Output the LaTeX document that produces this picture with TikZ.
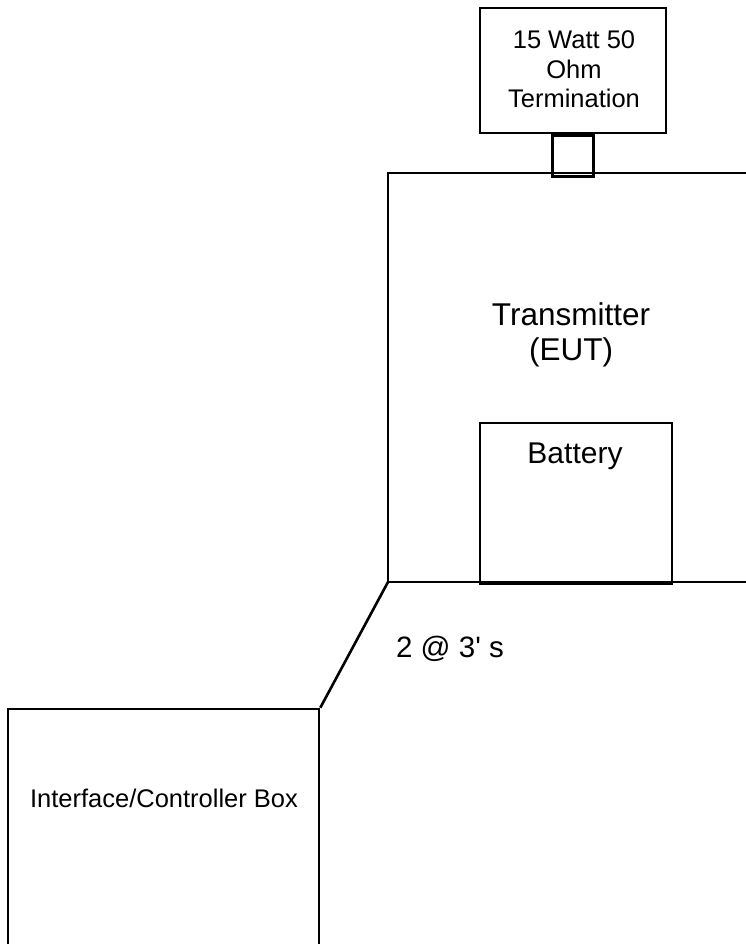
\documentclass[tikz,border=0pt]{standalone}
\usepackage{fontspec}
\setmainfont{Liberation Sans}
\usetikzlibrary{positioning}

\begin{document}
\begin{tikzpicture}[x=1pt, y=-1pt, line width=2.6pt,
    box/.style={draw, rectangle, inner sep=0pt, align=center},
    label/.style={inner sep=0pt, align=center, anchor=base}]
    \useasboundingbox (0,0) rectangle (746,944);

    % corners of the transmitter (right side runs off the page)
    \coordinate (TxTopL) at (388,173);
    \coordinate (TxTopR) at (746,173);
    \coordinate (TxBotL) at (388,582);
    \coordinate (TxBotR) at (746,582);

    % transmitter outline
    \draw (TxTopR) -- (TxTopL) -- (TxBotL) -- (TxBotR);
    \node[label, font=\fontsize{31.5}{35}\selectfont] (Tx) at (571,325) {Transmitter};
    \node[label, font=\fontsize{31.5}{35}\selectfont] (TxEut) at (571,360) {(EUT)};

    % termination load and its connector
    \node[box, minimum width=186pt, minimum height=125pt] (Term) at (573,70.5) {};
    \node[label, font=\fontsize{25.5}{30}\selectfont] (TermA) at (574,49) {15 Watt 50};
    \node[label, font=\fontsize{25.5}{30}\selectfont] (TermB) at (574,79) {Ohm};
    \node[label, font=\fontsize{25.5}{30}\selectfont] (TermC) at (574,108) {Termination};
    \node[box, minimum width=41pt, minimum height=41pt, below=0pt of Term] (Conn) {};

    % battery sitting on the bottom edge
    \node[box, minimum width=192pt, minimum height=159pt] (Batt) at (576,502.5) {};
    \node[label, font=\fontsize{30}{34}\selectfont] (BattText) at (575,463) {Battery};
    \draw[line width=3.8pt] (Batt.south west) -- (Batt.south east);

    % interface / controller box
    \node[box, minimum width=311pt, minimum height=236pt] (Ctrl) at (163.5,827) {};
    \node[label, font=\fontsize{25.5}{30}\selectfont] (CtrlText) at (164,807) {Interface/Controller Box};

    % cable between the two
    \draw (TxBotL) -- (Ctrl.north east);
    \node[label, font=\fontsize{29.5}{34}\selectfont] (Cable) at (450,657) {2 @ 3\textquotesingle\ s};
\end{tikzpicture}
\end{document}
